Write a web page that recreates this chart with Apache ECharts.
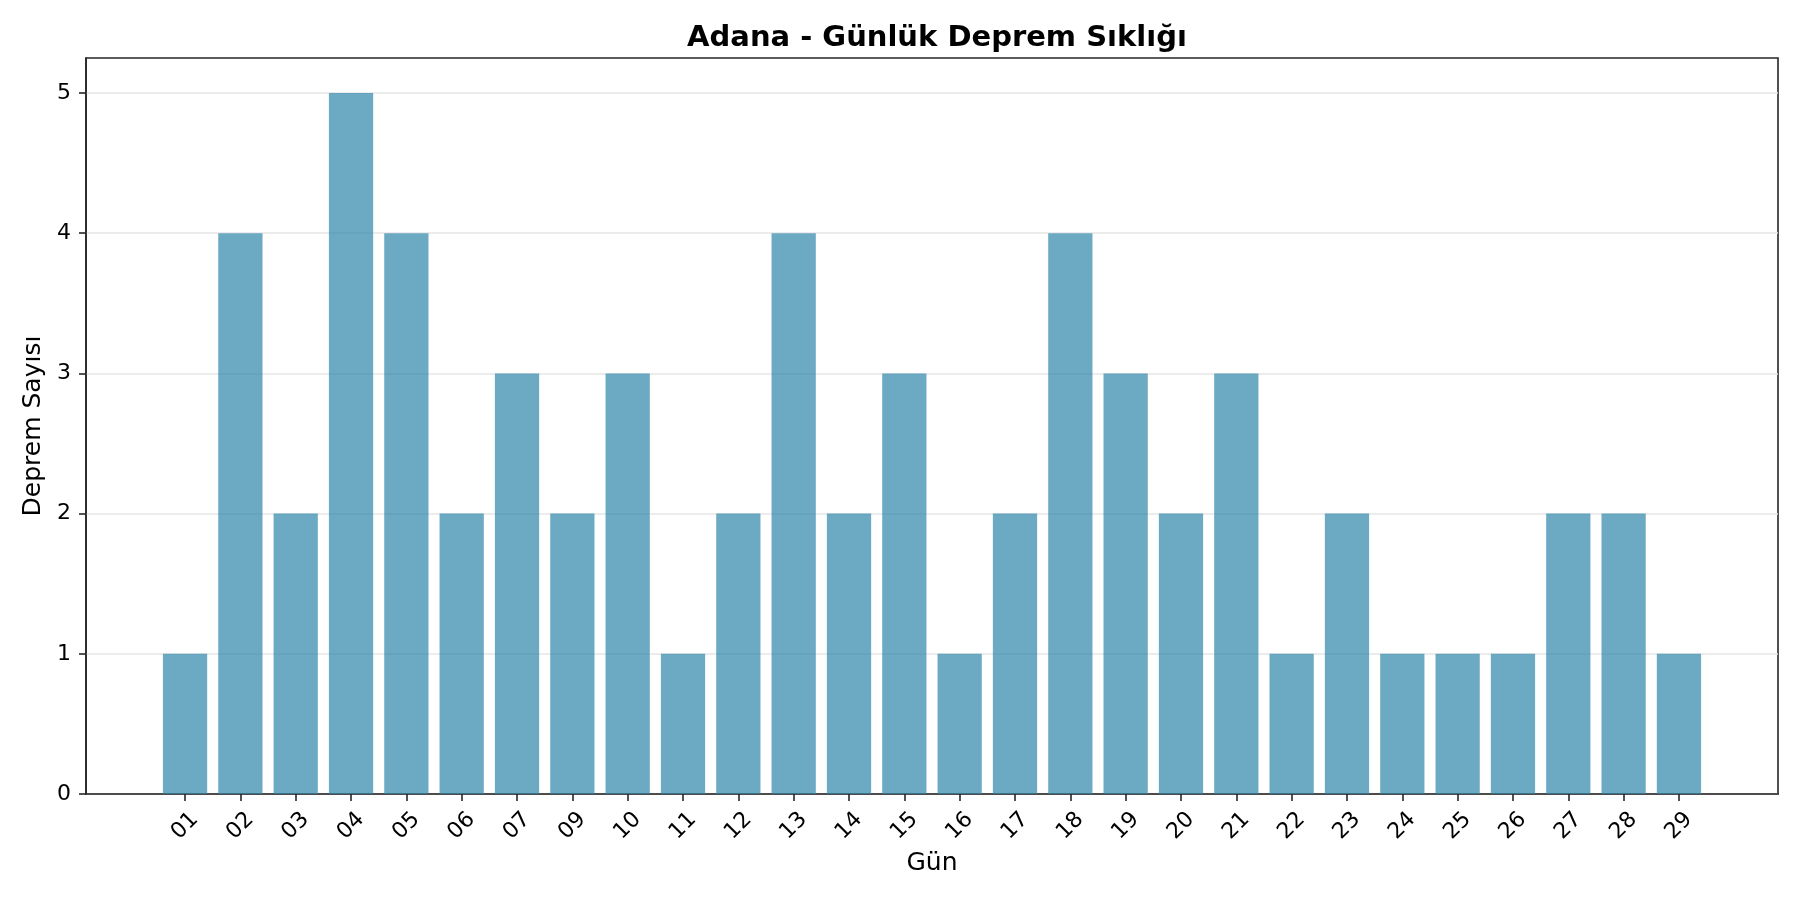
<!DOCTYPE html>
<html>
<head>
<meta charset="utf-8">
<script src="https://cdn.jsdelivr.net/npm/echarts@6/dist/echarts.min.js"></script>
<style>
html,body{margin:0;padding:0;background:#fff;}
#chart{width:1800px;height:900px;}
</style>
</head>
<body>
<div id="chart"></div>
<script>
const days = ['01','02','03','04','05','06','07','09','10','11','12','13','14','15','16','17','18','19','20','21','22','23','24','25','26','27','28','29'];
const counts = [1,4,2,5,4,2,3,2,3,1,2,4,2,3,1,2,4,3,2,3,1,2,1,1,1,2,2,1];
const yTicks = [0,1,2,3,4,5];
const titleText = 'Adana - Günlük Deprem Sıklığı';
const xName = 'Gün';
const yName = 'Deprem Sayısı';

const n = days.length;
const pad = 0.05 * ((n - 1 + 0.4) - (-0.4));
const xMin = -0.4 - pad, xMax = n - 1 + 0.4 + pad;
const yMax = Math.max(...counts) * 1.05;
const idx = days.map((d, i) => i);

const chart = echarts.init(document.getElementById('chart'));
const font = 'DejaVu Sans';
const plotW = 1800 - 86 - 22;
const barW = plotW / (xMax - xMin) * 0.8;

chart.setOption({
  animation: false,
  backgroundColor: '#ffffff',
  title: {
    text: titleText,
    left: 932, textAlign: 'center', top: 19,
    textStyle: {fontFamily: font, fontSize: 29, fontWeight: 'bold', color: '#000'}
  },
  grid: {left: 86, right: 22, top: 58, bottom: 106, show: true, borderColor: '#262626', borderWidth: 1.6, backgroundColor: 'transparent'},
  xAxis: {
    type: 'value', min: xMin, max: xMax,
    name: xName, nameLocation: 'middle', nameGap: 56,
    nameTextStyle: {fontFamily: font, fontSize: 25, color: '#000'},
    axisLine: {show: true, onZero: false, lineStyle: {color: '#262626', width: 1.6}},
    axisTick: {show: true, length: 7, lineStyle: {color: '#262626', width: 1.6}, customValues: idx},
    axisLabel: {
      customValues: idx, rotate: 45, align: 'center', verticalAlign: 'middle', margin: 32,
      fontFamily: font, fontSize: 22, color: '#000',
      formatter: v => days[Math.round(v)]
    },
    splitLine: {show: false}
  },
  yAxis: {
    type: 'value', min: 0, max: yMax,
    name: yName, nameLocation: 'middle', nameGap: 37,
    nameTextStyle: {fontFamily: font, fontSize: 25, color: '#000'},
    axisLine: {show: true, onZero: false, lineStyle: {color: '#262626', width: 1.6}},
    axisTick: {show: true, length: 7, lineStyle: {color: '#262626', width: 1.6}, customValues: yTicks},
    axisLabel: {customValues: yTicks, margin: 15, fontFamily: font, fontSize: 22, color: '#000'},
    splitLine: {show: true, lineStyle: {color: '#e6e6e6', width: 1.5}}
  },
  series: [{
    type: 'bar',
    data: counts.map((c, i) => [i, c]),
    barWidth: barW,
    itemStyle: {color: 'rgba(46,134,171,0.7)'}
  }]
});
</script>
</body>
</html>
